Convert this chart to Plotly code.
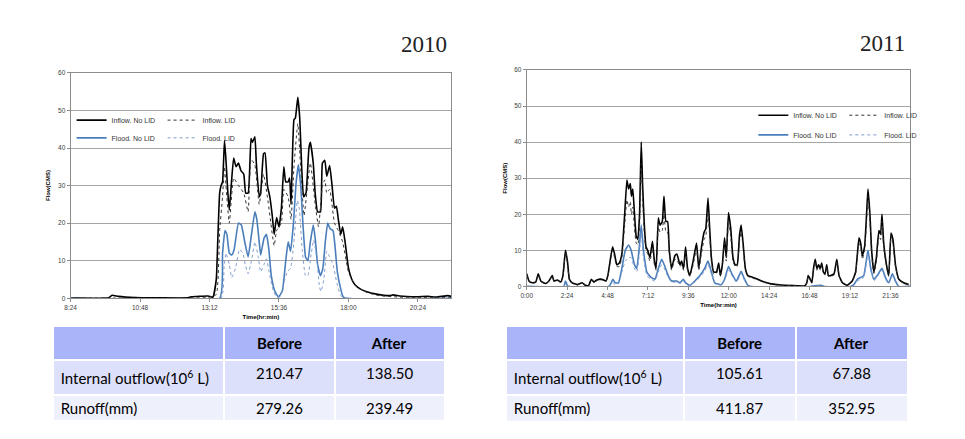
import plotly.graph_objects as go

# ---- 2010 event (time in minutes from 0:00, flow in CMS) ----
t10_inflow = [504, 583, 590, 603, 638, 747, 754, 789, 799, 806,
              809, 813, 816, 819, 823, 826, 830, 833, 837, 842,
              847, 852, 857, 863, 867, 872, 878, 881, 886, 889,
              895, 898, 904, 907, 912, 917, 922, 926, 931, 936,
              941, 946, 950, 955, 958, 961, 967, 970, 975, 979,
              983, 987, 992, 998, 1001, 1007, 1011, 1016, 1022, 1026,
              1031, 1035, 1041, 1046, 1051, 1055, 1059, 1064, 1068, 1073,
              1080, 1087, 1094, 1104, 1118, 1138, 1166, 1173, 1186, 1221,
              1245, 1262, 1286, 1293]
inflow_nolid_10 = [0.1, 0.1, 0.8, 0.5, 0.2, 0.1, 0.35, 0.6, 0.3, 5,
                   15, 28, 30, 31, 42, 37, 28, 23.5, 30, 37.3,
                   35, 36, 34, 33, 28, 28, 42.5, 41.5, 43, 36,
                   27, 28, 38.5, 38.7, 30, 27, 22, 17, 21.5, 19,
                   24, 35, 31, 31, 32, 25, 47.5, 48, 53.5, 48,
                   35, 27, 28, 40, 41.5, 36, 28, 23, 23, 36,
                   36.7, 32.5, 35.3, 30, 24, 24.5, 21, 17, 19, 15,
                   8, 5, 3.5, 2.5, 1.7, 1.1, 0.7, 0.9, 0.6, 0.4,
                   0.5, 0.3, 0.7, 0.5]

t10_inflow_lid = [504, 747, 789, 806, 813, 819, 823, 826, 833, 842,
                  852, 863, 872, 878, 886, 895, 904, 912, 926, 931,
                  941, 946, 955, 961, 967, 975, 983, 988, 1001, 1011,
                  1018, 1026, 1031, 1035, 1041, 1051, 1059, 1068, 1080, 1094,
                  1114, 1138, 1186, 1293]
inflow_lid_10 = [0.05, 0.05, 0.2, 1, 18, 27, 35, 30, 20, 32,
                 30, 28, 23, 37, 35.5, 25, 33, 27, 14, 18,
                 20, 29, 27, 21, 35, 46.5, 30, 22, 36, 25,
                 19, 30, 31.5, 28, 29, 20, 18, 15, 7, 3.5,
                 1.8, 0.8, 0.3, 0.2]

t10_flood = [504, 813, 819, 824, 828, 833, 838, 843, 852, 858,
             865, 872, 879, 886, 890, 895, 898, 905, 910, 915,
             920, 927, 935, 943, 950, 955, 960, 966, 971, 976,
             981, 986, 991, 996, 1001, 1007, 1011, 1016, 1022, 1027,
             1032, 1037, 1042, 1048, 1052, 1057, 1063, 1070, 1293]
flood_nolid_10 = [0, 0, 12, 18, 17, 12, 11.5, 13, 20, 19.5,
                  15, 11, 17, 23, 21, 15, 11.5, 16, 17, 13,
                  6, 2, 0.3, 2, 10, 15, 12.5, 20, 30, 35.5,
                  30, 19, 11, 10, 15, 19.5, 16, 9, 6, 8,
                  15, 20, 18.5, 18, 14, 7, 3, 0.2, 0]

t10_flood_lid = [504, 816, 822, 826, 833, 838, 846, 854, 861, 866,
                 872, 879, 886, 893, 898, 905, 910, 917, 924, 931,
                 939, 946, 953, 960, 967, 974, 978, 984, 991, 996,
                 1003, 1008, 1014, 1020, 1023, 1029, 1035, 1041, 1048, 1056,
                 1063, 1070, 1293]
flood_lid_10 = [0, 0, 8, 12, 9, 5.5, 8, 13, 12, 9,
                6.5, 10, 15, 11, 7, 9, 10.5, 6, 2, 0.3,
                0.5, 4, 7, 8, 15, 26, 24, 13, 6, 6,
                12, 15.5, 11, 3, 1.8, 5, 12.5, 11, 9, 4,
                1, 0, 0]

# ---- 2011 event ----
t11_inflow = [0, 8, 20, 32, 41, 50, 67, 79, 91, 97,
              109, 121, 129, 138, 145, 152, 162, 180, 197, 209,
              221, 230, 239, 250, 268, 282, 289, 298, 306, 313,
              321, 330, 339, 349, 357, 363, 369, 373, 378, 384,
              390, 396, 402, 408, 413, 419, 425, 431, 439, 448,
              455, 461, 469, 475, 483, 489, 496, 502, 508, 516,
              528, 535, 546, 552, 559, 566, 573, 581, 593, 605,
              613, 623, 632, 638, 646, 652, 658, 666, 676, 684,
              690, 697, 705, 711, 719, 727, 735, 743, 750, 758,
              764, 771, 779, 788, 806, 823, 847, 871, 906, 965,
              989, 998, 1003, 1010, 1016, 1022, 1028, 1034, 1040, 1046,
              1051, 1057, 1063, 1069, 1075, 1083, 1095, 1105, 1113, 1125,
              1142, 1160, 1172, 1184, 1190, 1196, 1204, 1211, 1216, 1223,
              1229, 1237, 1246, 1255, 1261, 1266, 1272, 1282, 1290, 1298,
              1305, 1314, 1326, 1343, 1361]
inflow_nolid_11 = [3.5, 1.5, 1.0, 1.2, 3.5, 1.5, 0.8, 1.5, 3.0, 1.5,
                   1.8, 1.2, 3.0, 10.0, 7.0, 2.0, 1.0, 0.5, 1.0, 0.3,
                   0.3, 2.0, 1.2, 1.8, 2.0, 1.5, 3.0, 7.5, 11.0, 9.0,
                   6.0, 6.5, 9.0, 20.0, 29.5, 27.0, 28.5, 25.0, 27.0, 20.0,
                   14.0, 13.0, 20.0, 40.0, 28.0, 17.0, 11.0, 10.0, 8.0, 12.5,
                   7.0, 5.0, 19.0, 17.0, 18.0, 25.0, 18.0, 18.0, 10.0, 5.0,
                   8.5, 9.0, 6.0, 7.0, 5.0, 11.0, 5.0, 3.0, 7.0, 12.0,
                   5.0, 11.0, 15.0, 16.0, 24.5, 16.0, 8.0, 4.0, 4.0, 6.5,
                   3.0, 6.0, 13.5, 8.0, 20.5, 16.0, 8.0, 6.0, 6.0, 14.0,
                   17.0, 12.0, 5.0, 3.0, 2.5, 2.0, 1.2, 0.7, 0.4, 0.2,
                   0.1, 1.0, 3.0, 2.0, 1.0, 5.0, 7.5, 5.0, 6.0, 5.0,
                   6.5, 4.0, 3.5, 6.0, 3.0, 3.0, 3.5, 7.5, 3.0, 1.0,
                   0.3, 1.5, 4.0, 13.5, 12.0, 8.5, 11.0, 20.0, 27.0, 20.0,
                   10.0, 4.0, 8.0, 15.5, 14.5, 20.0, 12.0, 6.0, 3.0, 14.8,
                   13.0, 6.0, 2.0, 1.0, 0.5]
inflow_lid_11 = [3.3, 1.4, 0.9, 1.1, 3.2, 1.4, 0.7, 1.4, 2.8, 1.4,
                 1.7, 1.1, 2.8, 9.5, 6.5, 1.8, 0.9, 0.4, 0.9, 0.3,
                 0.3, 1.8, 1.1, 1.6, 1.8, 1.4, 2.7, 7.0, 10.0, 8.0,
                 5.5, 5.5, 8.0, 17.0, 24.0, 22.0, 23.5, 20.0, 22.0, 16.0,
                 12.0, 11.5, 17.0, 34.0, 24.0, 14.5, 10.0, 9.0, 7.0, 10.5,
                 6.0, 4.5, 16.5, 15.0, 15.5, 20.0, 15.0, 15.0, 9.0, 4.5,
                 7.5, 7.5, 5.5, 6.0, 4.5, 9.5, 4.5, 2.8, 6.0, 10.5,
                 4.5, 9.5, 13.0, 14.0, 20.0, 14.0, 7.0, 3.5, 3.5, 5.5,
                 2.8, 5.5, 12.0, 7.0, 18.0, 14.0, 7.0, 5.5, 5.5, 12.5,
                 15.0, 11.0, 4.5, 2.8, 2.3, 1.8, 1.1, 0.6, 0.3, 0.2,
                 0.1, 0.9, 2.8, 1.8, 0.9, 4.5, 7.0, 4.5, 5.5, 4.5,
                 6.0, 3.6, 3.2, 5.5, 2.8, 2.8, 3.2, 7.0, 2.8, 0.9,
                 0.3, 1.4, 3.6, 12.0, 11.0, 7.5, 10.0, 18.0, 25.0, 18.0,
                 9.0, 3.6, 7.0, 14.0, 13.0, 18.0, 11.0, 5.5, 2.8, 14.0,
                 12.0, 5.5, 1.8, 0.9, 0.5]

t11_flood = [0, 132, 138, 145, 152, 292, 301, 307, 315, 327,
             339, 351, 363, 372, 384, 392, 400, 408, 416, 428,
             443, 457, 469, 481, 490, 504, 516, 534, 546, 558,
             566, 581, 599, 617, 634, 646, 658, 670, 693, 705,
             719, 731, 747, 764, 776, 788, 800, 1012, 1024, 1048,
             1060, 1154, 1166, 1178, 1190, 1201, 1216, 1226, 1237, 1249,
             1266, 1278, 1290, 1303, 1314, 1326, 1367]
flood_nolid_11 = [0, 0, 1.5, 0.2, 0, 0, 1, 2, 1, 1,
                  5, 10, 11.5, 10, 6, 5, 10, 17, 10, 4,
                  2.5, 2, 5, 7.5, 6, 3, 1.5, 1.5, 1, 2,
                  1, 0.3, 1.5, 3, 5, 7, 4, 1, 0.5, 2,
                  5.5, 3.5, 1.5, 4.2, 2, 0.3, 0, 0, 0.2, 0.3,
                  0, 0, 0.5, 2, 2.5, 3, 10, 5, 2, 3,
                  5, 2.5, 1, 3.5, 1.5, 0, 0]
flood_lid_11 = [0, 0, 0.8, 0.1, 0, 0, 0.5, 1, 0.5, 0.8,
                4, 7, 8, 8, 5, 4, 8, 15, 8, 3,
                2, 1.5, 4, 6, 5, 2.5, 1.2, 1.2, 0.8, 1.5,
                0.8, 0.2, 1.2, 2.5, 4.3, 6, 3.5, 0.8, 0.4, 1.7,
                4.5, 3, 1.2, 3.5, 1.7, 0.2, 0, 0, 0.1, 0.2,
                0, 0, 0.3, 1.5, 2, 2.5, 9, 4.5, 1.5, 2.7,
                4.5, 2, 0.8, 3, 1.2, 0, 0]

ticks_2010 = ["8:24", "10:48", "13:12", "15:36", "18:00", "20:24"]
ticks_2011 = ["0:00", "2:24", "4:48", "7:12", "9:36", "12:00",
              "14:24", "16:48", "19:12", "21:36"]

# ---- summary tables ----
row_labels = ["Internal outflow(10<sup>6</sup> L)", "Runoff(mm)"]
before_2010 = ["210.47", "279.26"]
after_2010 = ["138.50", "239.49"]
before_2011 = ["105.61", "411.87"]
after_2011 = ["67.88", "352.95"]

W, H = 965, 439
SANS = "Liberation Sans"

STYLES = {
    "Inflow. No LID": dict(color="#000000", width=1.6, dash="solid"),
    "Inflow. LID": dict(color="#303030", width=1, dash="dot"),
    "Flood. No LID": dict(color="#4a7ebb", width=1.6, dash="solid"),
    "Flood. LID": dict(color="#7f9bcc", width=1, dash="dot"),
}


def to_minutes(label):
    h, m = label.split(":")
    return int(h) * 60 + int(m)


def px_x(p):
    return p / W


def px_y(p):
    return 1 - p / H


fig = go.Figure()

events = [
    ("x", "y", "legend", "legend2", [
        ("Inflow. No LID", t10_inflow, inflow_nolid_10),
        ("Inflow. LID", t10_inflow_lid, inflow_lid_10),
        ("Flood. No LID", t10_flood, flood_nolid_10),
        ("Flood. LID", t10_flood_lid, flood_lid_10),
    ]),
    ("x2", "y2", "legend3", "legend4", [
        ("Inflow. No LID", t11_inflow, inflow_nolid_11),
        ("Inflow. LID", t11_inflow, inflow_lid_11),
        ("Flood. No LID", t11_flood, flood_nolid_11),
        ("Flood. LID", t11_flood, flood_lid_11),
    ]),
]

for xa, ya, leg_a, leg_b, series in events:
    for name, t, v in series:
        fig.add_trace(
            go.Scatter(
                x=t,
                y=v,
                name=name,
                mode="lines",
                line=dict(shape="spline", smoothing=0.4, **STYLES[name]),
                xaxis=xa,
                yaxis=ya,
                legend=leg_a if name.startswith("Inflow") else leg_b,
            )
        )

# tables
for dom_x, dom_y, widths, before, after in [
    ([px_x(47), px_x(442)], [px_y(423), px_y(327)], [173, 111, 111], before_2010, after_2010),
    ([px_x(503), px_x(908)], [px_y(424), px_y(327)], [179, 113, 113], before_2011, after_2011),
]:
    fig.add_trace(
        go.Table(
            domain=dict(x=dom_x, y=dom_y),
            columnwidth=widths,
            header=dict(
                values=[" ", "<b>Before</b>", "<b>After</b>"],
                fill_color="#a9b4f9",
                line=dict(color="white", width=2),
                align="center",
                font=dict(family="Lato", size=15, color="#000000"),
                height=31,
            ),
            cells=dict(
                values=[row_labels, before, after],
                fill_color=[["#dde0fa", "#eef0fc"]] * 3,
                line=dict(color="white", width=2),
                align=["left", "center", "center"],
                font=dict(family="Lato", size=15, color="#000000"),
                height=31,
            ),
        )
    )

tick_font = dict(family=SANS, size=6.5, color="#404040")
title_font = dict(family=SANS, size=6, color="#000000")


def y_axis(domain, anchor):
    return dict(
        domain=domain, anchor=anchor, range=[0, 60], dtick=10,
        showgrid=True, gridcolor="#a6a6a6", gridwidth=1,
        showline=True, linecolor="#8c8c8c", mirror=True,
        ticks="outside", ticklen=3, tickcolor="#8c8c8c",
        zeroline=False, tickfont=tick_font,
        title=dict(text="<b>Flow(CMS)</b>", font=title_font, standoff=6),
    )


def x_axis(domain, anchor, rng, labels):
    return dict(
        domain=domain, anchor=anchor, range=rng,
        tickvals=[to_minutes(s) for s in labels], ticktext=labels,
        showgrid=False, showline=True, linecolor="#8c8c8c", mirror=True,
        ticks="outside", ticklen=3, tickcolor="#8c8c8c",
        zeroline=False, tickfont=tick_font,
        title=dict(text="<b>Time(hr:min)</b>", font=title_font, standoff=4),
    )


def legend_box(x, y):
    return dict(
        orientation="h", x=x, y=y, xanchor="left", yanchor="middle",
        font=dict(family=SANS, size=7, color="#333333"),
        bgcolor="rgba(0,0,0,0)", itemwidth=30,
        entrywidth=46, entrywidthmode="pixels",
    )


fig.update_layout(
    width=W,
    height=H,
    margin=dict(l=0, r=0, t=0, b=0),
    paper_bgcolor="white",
    plot_bgcolor="white",
    showlegend=True,
    xaxis=x_axis([px_x(65), px_x(448)], "y", [504, 1293], ticks_2010),
    yaxis=y_axis([px_y(299), px_y(70)], "x"),
    xaxis2=x_axis([px_x(524), px_x(910)], "y2", [0, 1367], ticks_2011),
    yaxis2=y_axis([px_y(287), px_y(67)], "x2"),
    legend=legend_box(px_x(66), px_y(118)),
    legend2=legend_box(px_x(66), px_y(136)),
    legend3=legend_box(px_x(752), px_y(113)),
    legend4=legend_box(px_x(752), px_y(133)),
    annotations=[
        dict(text="2010", x=px_x(421), y=px_y(41), xref="paper", yref="paper",
             xanchor="center", yanchor="middle", showarrow=False,
             font=dict(family="Liberation Serif", size=23, color="#222222")),
        dict(text="2011", x=px_x(882), y=px_y(40), xref="paper", yref="paper",
             xanchor="center", yanchor="middle", showarrow=False,
             font=dict(family="Liberation Serif", size=23, color="#222222")),
    ],
)

fig.write_html(
    "out.html",
    config={"displayModeBar": False},
    post_script="document.body.style.margin = '0';",
)
